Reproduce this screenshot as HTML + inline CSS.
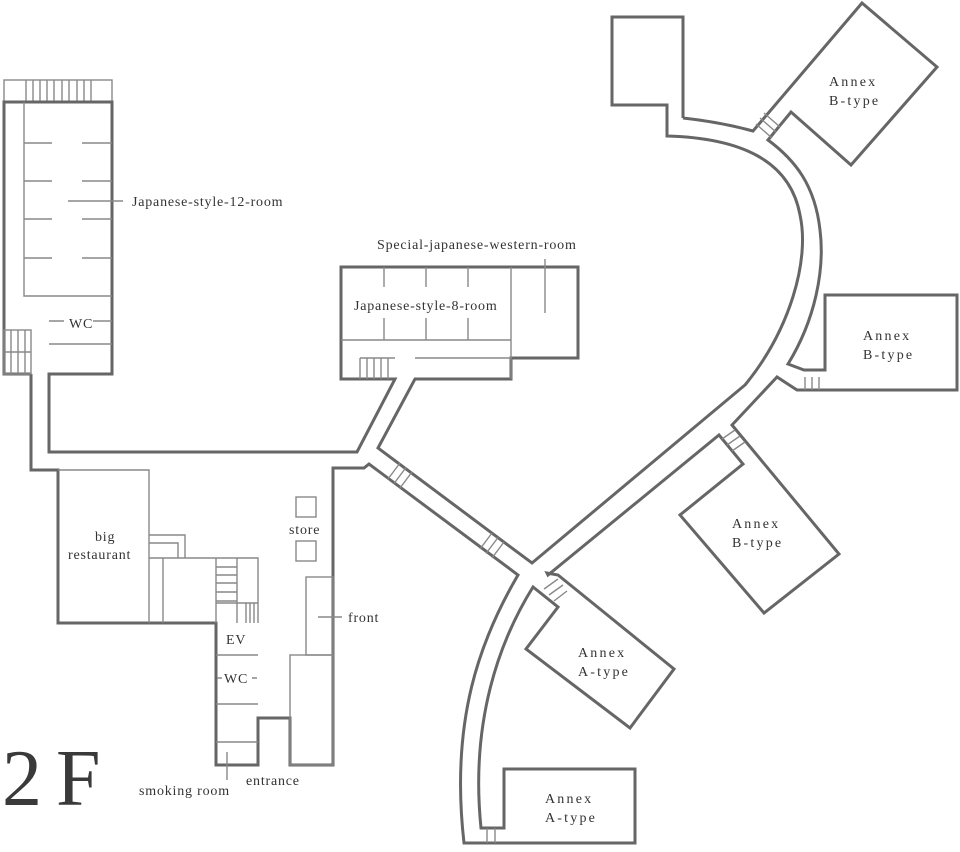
<!DOCTYPE html>
<html><head><meta charset="utf-8"><style>
html,body{margin:0;padding:0;background:#fff;}
svg{display:block;}
text{font-family:"Liberation Serif",serif;fill:#333;font-size:14px;letter-spacing:0.8px;}
.t{fill:none;stroke:#666;stroke-width:3;stroke-linejoin:miter;}
.n{fill:none;stroke:#888;stroke-width:1.4;}
text.a{letter-spacing:2.2px;}
</style></head><body>
<svg width="960" height="852" viewBox="0 0 960 852">
<rect x="4" y="80" width="108" height="22" class="n"/>
<g class="n"><path d="M26 80V102M33 80V102M40 80V102M47 80V102M54 80V102M62 80V102M69 80V102M77 80V102M84 80V102M91 80V102"/></g>
<path class="t" d="M31 374H4V102H112V374H49V452H357L395 379H341V267H578V358H511V379H415L378 448L532 563 L745 385 C790 330 810 260 800 215 C790 160 740 138 667 136 V105 H612 V17 H683 V118"/>
<path class="t" d="M683 118 Q720 122 753 131 L862 3 L937 67 L851 165 L791 112 L768 140 C795 160 815 185 820 230 C825 270 815 320 788 364 L804 370 H825 V295 H957 V390 H797 L777 377 L732 425 L839 554 L764 613 L680 515 L743 464 L719 435 L548 575 L547 573 L558 575 L674 669 L630 728 L526 649 L558 607 L533 587 C500 640 470 720 481 828 H504 V769 H635 V843 H464 C450 720 480 640 518 575 L369 464 L364 468 H333 V765 H290 V718 H258 V765 H216 V623 H58 V470 H31 V374"/>
<g class="n">
<path d="M24 102V296H112M49 344H112M49 321H64M93 321H112"/>
<path d="M24 143H52M82 143H112M24 181H52M82 181H112M24 219H52M82 219H112M24 258H52M82 258H112"/>
<path d="M68 201H123"/>
<rect x="4" y="330" width="27" height="44"/>
<path d="M11 330V374M18 330V374M25 330V374M4 352H31"/>
<path d="M341 340H511M511 267V379M415 358H511"/>
<path d="M384 267V287M426 267V287M468 267V287M384 318V340M426 318V340M468 318V340"/>
<path d="M545 259V313"/>
<path d="M360 358H395M360 358V379M367 358V379M374 358V379M381 358V379M388 358V379"/>
<path d="M400 463L388 479M406 467.5L394 483.5M412 472L400 488"/>
<path d="M492 533L480 549M498 537.5L486 553.5M504 542L492 558"/>
<path d="M760 118L776 132M764 113L780 127M756 124L772 138"/>
<path d="M805 377V390M812 377V390M819 377V390"/>
<path d="M727 445L740 436M732 451L745 442M722 439L735 430"/>
<path d="M544 589L558 579M549 595L563 585M554 601L567 591"/>
<path d="M487 828V843M495 828V843"/>
<path d="M58 470H149V623M149 535H185V558M149 543H178V558M149 558H258V623M163 558V623M216 558V623M237 558V623"/>
<path d="M216 567H237M216 575H237M216 583H237M216 592H237M216 601H237M216 603H258M246 603V623M250 603V623M254 603V623"/>
<path d="M216 655H258M216 704H258M216 742H258M217 678H222M252 678H257M227 752V780"/>
<rect x="306" y="577" width="27" height="78"/>
<rect x="290" y="655" width="43" height="110"/>
<rect x="296" y="497" width="20" height="20"/>
<rect x="296" y="541" width="20" height="20"/>
<path d="M318 617H342"/>
</g>
<text x="132" y="206">Japanese-style-12-room</text>
<text x="69" y="328">WC</text>
<text x="377" y="249">Special-japanese-western-room</text>
<text x="354" y="310">Japanese-style-8-room</text>
<text x="95" y="541">big</text>
<text x="68" y="559">restaurant</text>
<text x="289" y="534">store</text>
<text x="348" y="622">front</text>
<text x="226" y="644">EV</text>
<text x="224" y="683">WC</text>
<text x="139" y="795">smoking room</text>
<text x="246" y="785">entrance</text>
<text class="a" x="829" y="86">Annex</text>
<text class="a" x="829" y="105">B-type</text>
<text class="a" x="863" y="340">Annex</text>
<text class="a" x="863" y="359">B-type</text>
<text class="a" x="732" y="528">Annex</text>
<text class="a" x="732" y="547">B-type</text>
<text class="a" x="578" y="657">Annex</text>
<text class="a" x="578" y="676">A-type</text>
<text class="a" x="545" y="803">Annex</text>
<text class="a" x="545" y="822">A-type</text>
<text x="2" y="805" style="font-size:80px;fill:#3a3a3a;letter-spacing:14px">2F</text>
</svg>
</body></html>
